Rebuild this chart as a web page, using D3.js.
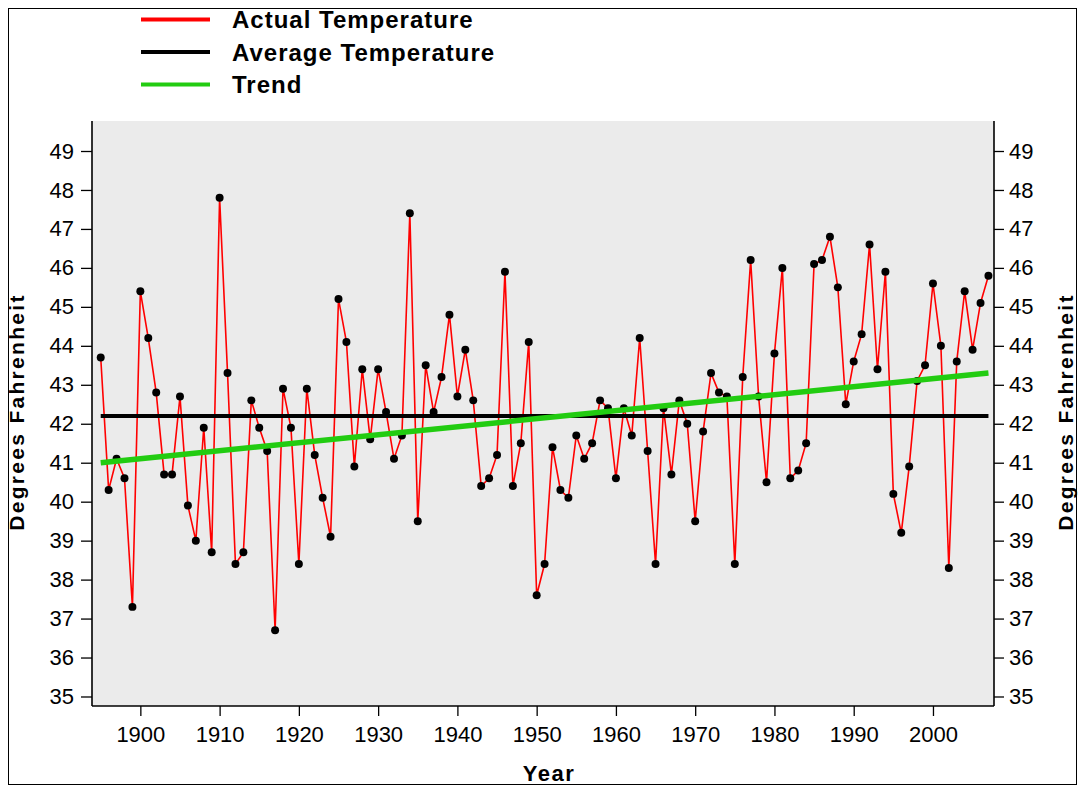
<!DOCTYPE html>
<html>
<head>
<meta charset="utf-8">
<script src="https://cdn.jsdelivr.net/npm/d3@7"></script>
<style>
  body { margin: 0; background: #fff; }
  svg { display: block; }
  text { font-family: "Liberation Sans", Arial, Helvetica, sans-serif; }
</style>
</head>
<body>
<svg id="chart" width="1081" height="787"></svg>
<script>
// ---- data ----
const years = d3.range(1895, 2008);
const actualTemps = [
  43.7, 40.3, 41.1, 40.6, 37.3, 45.4, 44.2, 42.8, 40.7, 40.7, // 1895-1904
  42.7, 39.9, 39.0, 41.9, 38.7, 47.8, 43.3, 38.4, 38.7, 42.6, // 1905-1914
  41.9, 41.3, 36.7, 42.9, 41.9, 38.4, 42.9, 41.2, 40.1, 39.1, // 1915-1924
  45.2, 44.1, 40.9, 43.4, 41.6, 43.4, 42.3, 41.1, 41.7, 47.4, // 1925-1934
  39.5, 43.5, 42.3, 43.2, 44.8, 42.7, 43.9, 42.6, 40.4, 40.6, // 1935-1944
  41.2, 45.9, 40.4, 41.5, 44.1, 37.6, 38.4, 41.4, 40.3, 40.1, // 1945-1954
  41.7, 41.1, 41.5, 42.6, 42.4, 40.6, 42.4, 41.7, 44.2, 41.3, // 1955-1964
  38.4, 42.4, 40.7, 42.6, 42.0, 39.5, 41.8, 43.3, 42.8, 42.7, // 1965-1974
  38.4, 43.2, 46.2, 42.7, 40.5, 43.8, 46.0, 40.6, 40.8, 41.5, // 1975-1984
  46.1, 46.2, 46.8, 45.5, 42.5, 43.6, 44.3, 46.6, 43.4, 45.9, // 1985-1994
  40.2, 39.2, 40.9, 43.1, 43.5, 45.6, 44.0, 38.3, 43.6, 45.4, // 1995-2004
  43.9, 45.1, 45.8                                            // 2005-2007
];
const averageTemp = 42.2;
const trendStart = 41.0;   // trend value at first year
const trendEnd = 43.3;     // trend value at last year
const yTicks = d3.range(35, 50);
const xTicks = d3.range(1900, 2001, 10);
const legendLabels = ["Actual Temperature", "Average Temperature", "Trend"];
const legendColors = ["#ff0000", "#000000", "#22cc11"];

const data = years.map((y, i) => ({ year: y, temp: actualTemps[i] }));

// ---- layout ----
const svg = d3.select("#chart");
const plot = { left: 92, right: 994, top: 121, bottom: 706 };

// outer frame
svg.append("rect")
  .attr("x", 8.5).attr("y", 8.5)
  .attr("width", 1068).attr("height", 776)
  .attr("fill", "#fff").attr("stroke", "#000").attr("stroke-width", 1);

const x = d3.scaleLinear().domain([1893.9, 2007.7]).range([plot.left, plot.right]);
const y = d3.scaleLinear().domain([34.756, 49.77]).range([plot.bottom, plot.top]);

// plot background
svg.append("rect")
  .attr("x", plot.left).attr("y", plot.top)
  .attr("width", plot.right - plot.left).attr("height", plot.bottom - plot.top)
  .attr("fill", "#ebebeb");

// axes
const axisFont = "22px";
const leftAxis = svg.append("g")
  .attr("transform", `translate(${plot.left},0)`)
  .call(d3.axisLeft(y).tickValues(yTicks).tickSize(11).tickPadding(7).tickSizeOuter(0));
const rightAxis = svg.append("g")
  .attr("transform", `translate(${plot.right},0)`)
  .call(d3.axisRight(y).tickValues(yTicks).tickSize(10).tickPadding(5).tickSizeOuter(0));
const bottomAxis = svg.append("g")
  .attr("transform", `translate(0,${plot.bottom})`)
  .call(d3.axisBottom(x).tickValues(xTicks).tickFormat(d3.format("d")).tickSize(10).tickPadding(10).tickSizeOuter(0));

[leftAxis, rightAxis, bottomAxis].forEach(g => {
  g.selectAll("text").attr("font-size", axisFont).attr("fill", "#000")
    .attr("font-family", "'Liberation Sans', Arial, sans-serif");
  g.selectAll("line").attr("stroke", "#000").attr("stroke-width", 1.3);
  g.select(".domain").attr("stroke", "#000").attr("stroke-width", 1.6);
});
// domain lines span full plot
leftAxis.select(".domain").attr("d", `M0,${plot.top}V${plot.bottom}`);
rightAxis.select(".domain").attr("d", `M0,${plot.top}V${plot.bottom}`);
bottomAxis.select(".domain").attr("d", `M${plot.left},0H${plot.right}`);

// axis titles
svg.append("text")
  .attr("x", 549).attr("y", 781)
  .attr("text-anchor", "middle").attr("font-size", "22px").attr("font-weight", "bold")
  .attr("letter-spacing", "1.5px")
  .text("Year");
svg.append("text")
  .attr("transform", `translate(23.5,412) rotate(-90)`)
  .attr("text-anchor", "middle").attr("font-size", "21px").attr("font-weight", "bold")
  .attr("letter-spacing", "2.3px")
  .text("Degrees Fahrenheit");
svg.append("text")
  .attr("transform", `translate(1073,412) rotate(-90)`)
  .attr("text-anchor", "middle").attr("font-size", "21px").attr("font-weight", "bold")
  .attr("letter-spacing", "2.3px")
  .text("Degrees Fahrenheit");

// actual temperature line
const line = d3.line().x(d => x(d.year)).y(d => y(d.temp));
svg.append("path")
  .datum(data)
  .attr("d", line)
  .attr("fill", "none").attr("stroke", legendColors[0]).attr("stroke-width", 1.6);

// markers
svg.append("g").selectAll("path")
  .data(data)
  .enter().append("path")
  .attr("transform", d => `translate(${x(d.year)},${y(d.temp)})`)
  .attr("d", d3.symbol().type(d3.symbolCircle).size(50))
  .attr("fill", "#000");

// average line
svg.append("line")
  .attr("x1", x(years[0])).attr("x2", x(years[years.length - 1]))
  .attr("y1", y(averageTemp)).attr("y2", y(averageTemp))
  .attr("stroke", legendColors[1]).attr("stroke-width", 4);

// trend line
svg.append("line")
  .attr("x1", x(years[0])).attr("x2", x(years[years.length - 1]))
  .attr("y1", y(trendStart)).attr("y2", y(trendEnd))
  .attr("stroke", legendColors[2]).attr("stroke-width", 5.5);

// legend
const legend = svg.append("g");
legendLabels.forEach((lab, i) => {
  const ly = 19.5 + i * 32.5;
  legend.append("line")
    .attr("x1", 141).attr("x2", 210).attr("y1", ly).attr("y2", ly)
    .attr("stroke", legendColors[i]).attr("stroke-width", 4);
  legend.append("text")
    .attr("x", 232).attr("y", ly).attr("dy", "0.36em")
    .attr("font-size", "24px").attr("font-weight", "bold")
    .attr("letter-spacing", "1px")
    .text(lab);
});
</script>
</body>
</html>
